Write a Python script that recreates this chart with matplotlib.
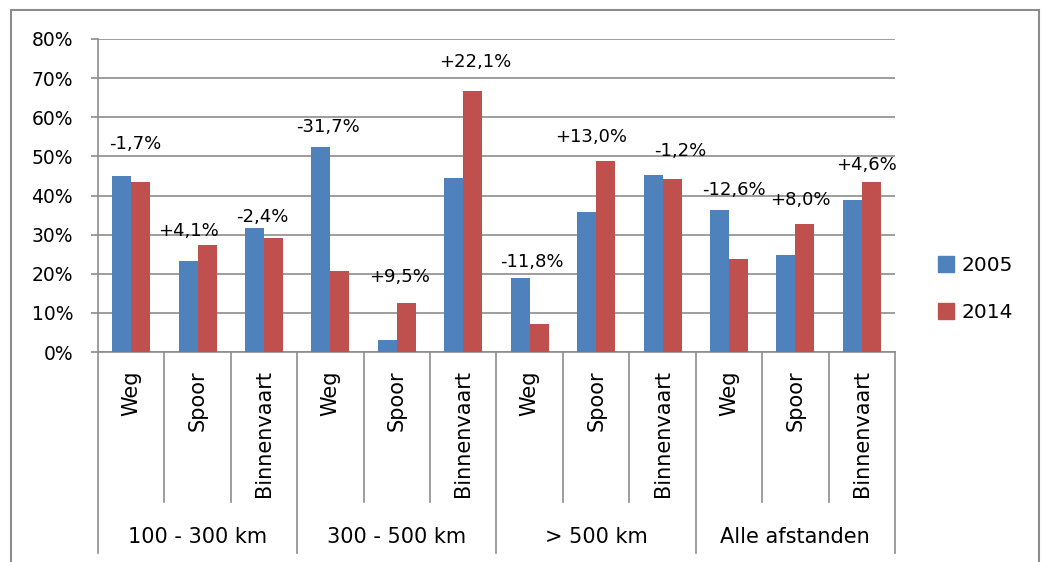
import numpy as np
import matplotlib.pyplot as plt
from matplotlib.patches import Rectangle, Patch
import matplotlib.transforms as mtransforms

# Data (aandeel per modaliteit, 2005 vs 2014)
groepen = ['100 - 300 km', '300 - 500 km', '> 500 km', 'Alle afstanden']
modaliteiten = ['Weg', 'Spoor', 'Binnenvaart']
waarden_2005 = [45.1, 23.3, 31.6, 52.4, 3.1, 44.6, 18.9, 35.8, 45.2, 36.4, 24.7, 38.9]
waarden_2014 = [43.4, 27.3, 29.2, 20.8, 12.5, 66.7, 7.1, 48.7, 44.1, 23.8, 32.8, 43.4]
verschil = ['-1,7%', '+4,1%', '-2,4%', '-31,7%', '+9,5%', '+22,1%',
            '-11,8%', '+13,0%', '-1,2%', '-12,6%', '+8,0%', '+4,6%']

# plaatsing van de verschil-labels (zoals handmatig in het origineel)
label_y = [53.2, 31.0, 34.6, 57.6, 19.1, 74.2, 22.9, 54.9, 51.5, 41.4, 38.8, 47.8]
label_dx = [0.06, -0.13, -0.02, -0.03, 0.04, 0.18, 0.04, -0.08, 0.27, 0.07, 0.08, 0.07]

blauw = '#4F81BD'
rood = '#C0504D'
grijs = '#8C8C8C'

W, H = 1042, 562
fig = plt.figure(figsize=(W / 100, H / 100), dpi=100)
ax = fig.add_axes([98 / W, 1 - 352 / H, (895 - 98) / W, (352 - 39) / H])

n = len(waarden_2005)
x = np.arange(n)
bw = 1 / 3.5
ax.bar(x - bw / 2, waarden_2005, bw, color=blauw, zorder=3)
ax.bar(x + bw / 2, waarden_2014, bw, color=rood, zorder=3)

ax.set_xlim(-0.5, n - 0.5)
ax.set_ylim(0, 80)
ax.set_yticks(range(0, 81, 10))
ax.set_yticklabels([f'{v}%' for v in range(0, 81, 10)], fontsize=13.5)
ax.yaxis.grid(True, color=grijs, linewidth=1.2, zorder=0)
ax.tick_params(axis='y', length=5, width=1.2, color=grijs, pad=13)
ax.set_xticks([])
for s in ['top', 'right']:
    ax.spines[s].set_visible(False)
for s in ['left', 'bottom']:
    ax.spines[s].set_color(grijs)
    ax.spines[s].set_linewidth(1.2)

# verschil-labels
for i in range(n):
    ax.text(x[i] + label_dx[i], label_y[i], verschil[i], ha='center', va='center',
            fontsize=13, zorder=4)

# twee-niveau categorie-as
trans = mtransforms.blended_transform_factory(ax.transData, ax.transAxes)
laag1 = -(502 - 352) / 313
laag2 = -(553 - 352) / 313
for b in np.arange(-0.5, n, 1.0):
    onder = laag2 if (b + 0.5) % 3 == 0 else laag1
    ax.plot([b, b], [0, onder], color=grijs, lw=1.2, transform=trans, clip_on=False)
for i in range(n):
    ax.text(x[i], -(370 - 352) / 313, modaliteiten[i % 3], rotation=90,
            ha='center', va='top', fontsize=15, transform=trans)
for g, naam in enumerate(groepen):
    ax.text(3 * g + 1, -(537 - 352) / 313, naam, ha='center', va='center',
            fontsize=15, transform=trans)

# legenda
handles = [Patch(color=blauw, label='2005'), Patch(color=rood, label='2014')]
fig.legend(handles=handles, loc='center left', bbox_to_anchor=(920 / W, 1 - 289 / H),
           frameon=False, fontsize=14.5, handlelength=0.8, handleheight=0.8,
           handletextpad=0.35, labelspacing=1.4)

# kader rond de grafiek
fig.patches.append(Rectangle((11 / W, -0.05), (1039 - 11) / W, 1.05 - 10 / H,
                             transform=fig.transFigure, fill=False,
                             edgecolor=grijs, linewidth=1.5))

fig.savefig('out.png', dpi=100)
